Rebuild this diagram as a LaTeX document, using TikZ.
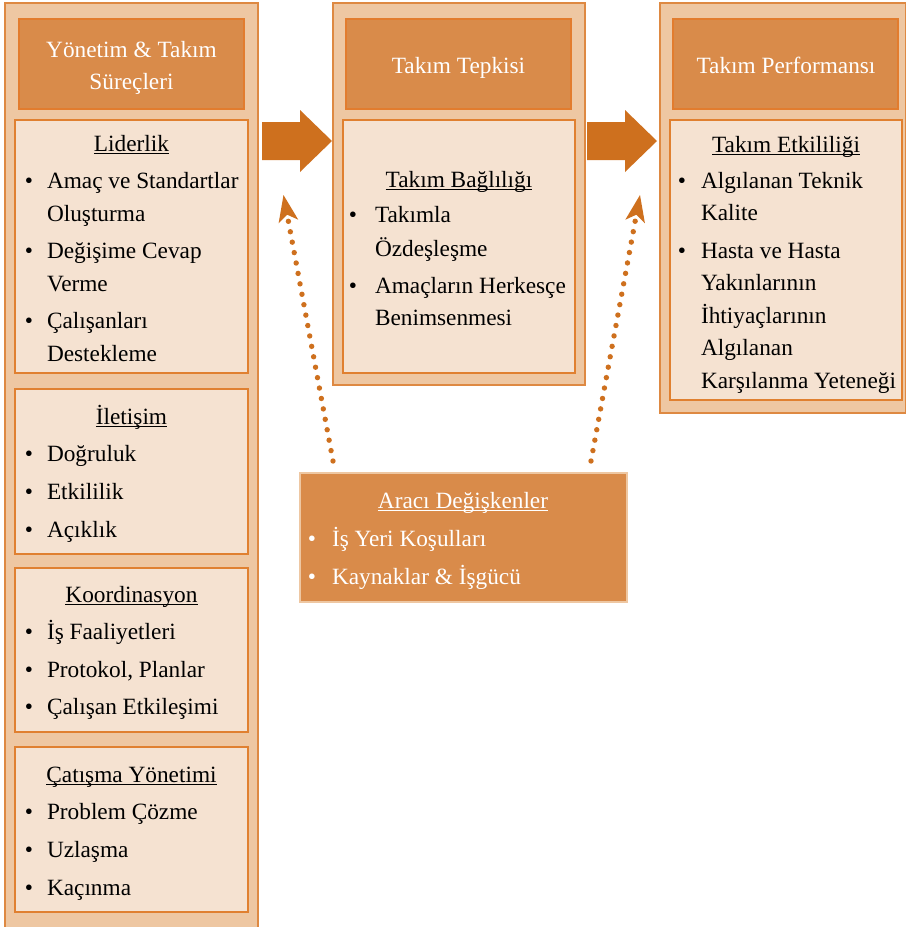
\documentclass[tikz,border=0pt]{standalone}
\usepackage{fontspec}
\setmainfont{Liberation Serif}
\usetikzlibrary{arrows.meta,calc}
\definecolor{outerfill}{RGB}{238,199,162}
\definecolor{outerdraw}{RGB}{222,137,66}
\definecolor{headfill}{RGB}{217,139,74}
\definecolor{headdraw}{RGB}{226,124,46}
\definecolor{innerfill}{RGB}{245,226,209}
\definecolor{innerdraw}{RGB}{224,128,48}
\definecolor{arrowc}{RGB}{206,112,30}
\newcommand\myul[1]{\setbox0\hbox{#1}\rlap{\rule[-3pt]{\wd0}{1pt}}\box0}
\newcommand\bul[5]{%
  \node[txt,anchor=base] (#1b) at (#2,#4) {•};
  \node[txt,anchor=base west] (#1) at (#3,#4) {#5};}
\newcommand\cont[4]{\node[txt,anchor=base west] (#1) at (#2,#3) {#4};}
\begin{document}
\begin{tikzpicture}[x=1pt,y=-1pt,
  box/.style={anchor=north west,inner sep=0pt,outer sep=0pt,line width=1.3pt},
  outerbox/.style={box,fill=outerfill,draw=outerdraw},
  headbox/.style={box,fill=headfill,draw=headdraw},
  innerbox/.style={box,fill=innerfill,draw=innerdraw},
  medbox/.style={box,fill=headfill,draw=outerfill},
  txt/.style={font=\fontsize{23.3}{28}\selectfont,inner sep=0pt,outer sep=0pt},
  barrow/.style={fill=arrowc,draw=none},
  dotarrow/.style={draw=arrowc,line width=5.4pt,line cap=round,
    dash pattern=on 0pt off 10.6pt,
    -{Stealth[length=27pt,width=20pt,inset=7pt,line width=0pt]}}
]
\useasboundingbox (0,0) rectangle (907,927);

% ---------- left column ----------
\node[outerbox,minimum width=253pt,minimum height=928pt] (oL) at (5,3) {};
\node[headbox,minimum width=225pt,minimum height=90pt] (hL) at (19,19) {};
\node[innerbox,minimum width=233pt,minimum height=253pt] (iL1) at (15,120) {};
\node[innerbox,minimum width=233pt,minimum height=165pt] (iL2) at (15,389) {};
\node[innerbox,minimum width=233pt,minimum height=164pt] (iL3) at (15,568) {};
\node[innerbox,minimum width=233pt,minimum height=165pt] (iL4) at (15,747) {};

\begin{scope}[text=white]
\node[txt,anchor=base] (hLt1) at (131.5,57) {Yönetim \& Takım};
\node[txt,anchor=base] (hLt2) at (131.5,89) {Süreçleri};
\end{scope}

\node[txt,anchor=base] (tL1) at (131.5,151) {\myul{Liderlik}};
\bul{a1}{29}{47}{188}{Amaç ve Standartlar}
\cont{a1c}{47}{221}{Oluşturma}
\bul{a2}{29}{47}{258}{Değişime Cevap}
\cont{a2c}{47}{291}{Verme}
\bul{a3}{29}{47}{328}{Çalışanları}
\cont{a3c}{47}{361}{Destekleme}

\node[txt,anchor=base] (tL2) at (131.5,424) {\myul{İletişim}};
\bul{b1}{29}{47}{461}{Doğruluk}
\bul{b2}{29}{47}{499}{Etkililik}
\bul{b3}{29}{47}{537}{Açıklık}

\node[txt,anchor=base] (tL3) at (131.5,602) {\myul{Koordinasyon}};
\bul{c1}{29}{47}{639}{İş Faaliyetleri}
\bul{c2}{29}{47}{677}{Protokol, Planlar}
\bul{c3}{29}{47}{714}{Çalışan Etkileşimi}

\node[txt,anchor=base] (tL4) at (131.5,782) {\myul{Çatışma Yönetimi}};
\bul{d1}{29}{47}{819}{Problem Çözme}
\bul{d2}{29}{47}{857}{Uzlaşma}
\bul{d3}{29}{47}{895}{Kaçınma}

% ---------- middle column ----------
\node[outerbox,minimum width=252pt,minimum height=382pt] (oM) at (333,3) {};
\node[headbox,minimum width=225pt,minimum height=90pt] (hM) at (346,19) {};
\node[innerbox,minimum width=232pt,minimum height=253pt] (iM) at (343,120) {};
\node[txt,anchor=base,text=white] (hMt) at (458.5,73) {Takım Tepkisi};
\node[txt,anchor=base] (tM) at (459,187) {\myul{Takım Bağlılığı}};
\bul{m1}{353}{375}{222}{Takımla}
\cont{m1c}{375}{256}{Özdeşleşme}
\bul{m2}{353}{375}{293}{Amaçların Herkesçe}
\cont{m2c}{375}{325}{Benimsenmesi}

% ---------- right column ----------
\node[outerbox,minimum width=245.5pt,minimum height=410pt] (oR) at (660,3) {};
\node[headbox,minimum width=225pt,minimum height=90pt] (hR) at (673,19) {};
\node[innerbox,minimum width=232pt,minimum height=280pt] (iR) at (670,120) {};
\node[txt,anchor=base,text=white] (hRt) at (786,73) {Takım Performansı};
\node[txt,anchor=base] (tR) at (786,152) {\myul{Takım Etkililiği}};
\bul{r1}{682}{701}{188}{Algılanan Teknik}
\cont{r1c}{701}{220}{Kalite}
\bul{r2}{682}{701}{258}{Hasta ve Hasta}
\cont{r2c}{701}{290}{Yakınlarının}
\cont{r2d}{701}{323}{İhtiyaçlarının}
\cont{r2e}{701}{355}{Algılanan}
\cont{r2f}{701}{388}{Karşılanma Yeteneği}

% ---------- mediator ----------
\node[medbox,minimum width=327pt,minimum height=129pt] (med) at (300,473) {};
\begin{scope}[text=white]
\node[txt,anchor=base] (tMed) at (463,508) {\myul{Aracı Değişkenler}};
\bul{e1}{312}{332}{546}{İş Yeri Koşulları}
\bul{e2}{312}{332}{584}{Kaynaklar \& İşgücü}
\end{scope}

% ---------- block arrows ----------
\fill[barrow] ($(oL.north east)+(4,119)$) -- ++(38,0) -- ++(0,-12)
  -- ($(oM.north west)+(-1,138)$) -- ($(oL.north east)+(42,169)$)
  -- ++(0,-12) -- ++(-38,0) -- cycle;
\fill[barrow] ($(oM.north east)+(2,119)$) -- ++(38,0) -- ++(0,-12)
  -- ($(oR.north west)+(-3,138)$) -- ($(oM.north east)+(40,169)$)
  -- ++(0,-12) -- ++(-38,0) -- cycle;

% ---------- dotted arrows ----------
\coordinate (d1end) at (283.5,195);
\coordinate (d2end) at (640,195);
\draw[dotarrow] ($(med.north west)+(33,-12)$) -- (d1end);
\draw[dotarrow] ($(med.north east)+(-36,-12)$) -- (d2end);
\end{tikzpicture}
\end{document}
